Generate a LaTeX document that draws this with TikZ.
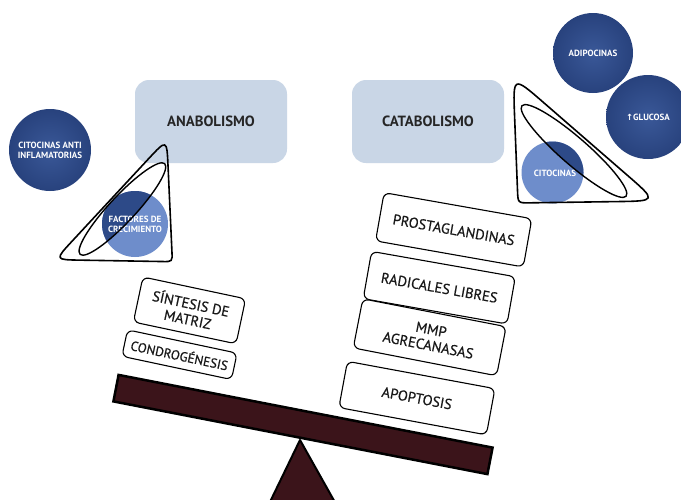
\documentclass[tikz,border=0pt]{standalone}
\usepackage{fontspec}
\usetikzlibrary{calc}
\setmainfont{PT Sans}
\newfontfamily\symf{DejaVu Sans}
\newfontfamily\boxfont[FakeBold=0.5]{PT Sans}
\definecolor{boxblue}{HTML}{C9D6E6}
\definecolor{darkblue}{HTML}{2D4A88}
\definecolor{darkin}{HTML}{3A5898}
\definecolor{darkout}{HTML}{28427D}
\definecolor{lightblue}{HTML}{6E8DCB}
\definecolor{beamred}{HTML}{3B141A}
\begin{document}
\begin{tikzpicture}[x=1pt,y=-1pt,
  stagebox/.style={fill=boxblue, rounded corners=14pt, minimum width=152pt, minimum height=83pt, inner sep=0pt, text=black!85, font=\bfseries\fontsize{14.8}{16}\selectfont},
  factorbox/.style={draw=black, line width=1.1pt, fill=white, rounded corners=6pt, align=center, inner sep=0pt, text=black!90, font=\boxfont\fontsize{14.5}{16}\selectfont},
  darkcirc/.style={circle, inner sep=0pt, text=white, align=center, font=\bfseries\fontsize{9}{10}\selectfont},
  darkball/.style={darkcirc, shading=radial, inner color=darkin, outer color=darkout},
  conelinestyle/.style={draw=black, line width=1.6pt, line join=round},
  rimstyle/.style={draw=black, line width=1.4pt},
  beamstyle/.style={draw=black, line width=2.5pt, fill=beamred, inner sep=0pt},
]
\clip (0,0) rectangle (681,499);
\fill[white] (0,0) rectangle (681,499);

% stages
\node[stagebox] (ana) at (211,121.5) {ANABOLISMO};
\node[stagebox] (cata) at (428,121.5) {CATABOLISMO};

% left circles and cone
\node[darkball, minimum size=82pt] (antiinf) at (50,150) {CITOCINAS ANTI\\INFLAMATORIAS};
\fill[lightblue] (135,224) circle[radius=33];
\begin{scope}
  \clip[rotate around={47:(122.4,209)}] (122.4,209) ellipse [x radius=62, y radius=13];
  \fill[darkblue] (135,224) circle[radius=33];
\end{scope}
\node[darkcirc, minimum size=66pt] (factores) at (135,224) {FACTORES DE\\CRECIMIENTO};
\draw[rimstyle, rotate around={47:(122.4,209)}] (122.4,209) ellipse [x radius=62, y radius=13];
\coordinate (lT) at (166.8,139.1);
\coordinate (lR) at (172.4,261.7);
\coordinate (lL) at (54.9,259.7);
\draw[conelinestyle]
  ($(lT)!27pt!(lL)$) .. controls (lT) .. ($(lT)!27pt!(lR)$)
  -- ($(lR)!10pt!(lT)$) .. controls (lR) .. ($(lR)!10pt!(lL)$)
  -- ($(lL)!25pt!(lR)$) .. controls (lL) .. ($(lL)!25pt!(lT)$) -- cycle;

% right circles and cone
\node[darkball, minimum size=80pt] (adipo) at (593,53) {ADIPOCINAS};
\node[darkball, minimum size=84pt] (gluc) at (648,117) {{\symf\fontsize{8.5}{9}\selectfont↑}GLUCOSA};
\fill[lightblue] (552.5,172.5) circle[radius=31];
\begin{scope}
  \clip[rotate around={-41:(574,151)}] (574,151) ellipse [x radius=69, y radius=13.5];
  \fill[darkblue] (552.5,172.5) circle[radius=31];
\end{scope}
\node[darkcirc, minimum size=62pt] (cito) at (555,173) {CITOCINAS};
\draw[rimstyle, rotate around={-41:(574,151)}] (574,151) ellipse [x radius=69, y radius=13.5];
\coordinate (rT) at (513,76);
\coordinate (rL) at (518,203);
\coordinate (rR) at (657,201);
\draw[conelinestyle]
  ($(rT)!40pt!(rL)$) .. controls (rT) .. ($(rT)!40pt!(rR)$)
  -- ($(rR)!40pt!(rT)$) .. controls (rR) .. ($(rR)!40pt!(rL)$)
  -- ($(rL)!12pt!(rR)$) .. controls (rL) .. ($(rL)!12pt!(rT)$) -- cycle;

% balance
\draw[draw=black, line width=2pt, fill=beamred, line join=round] (300,440) -- (336.5,505) -- (268.5,505) -- cycle;
\node[beamstyle, minimum width=381pt, minimum height=27pt, rotate=-11] (beam) at (303,424.5) {};

% factor boxes
\node[factorbox, minimum width=105pt, minimum height=46pt, rotate=-12] (sintesis) at (189.5,310.4) {SÍNTESIS DE\\MATRIZ};
\node[factorbox, minimum width=112pt, minimum height=27pt, rotate=-12, font=\boxfont\fontsize{13.2}{15}\selectfont] (condro) at (179.5,354.7) {CONDROGÉNESIS};
\node[factorbox, minimum width=150pt, minimum height=49pt, rotate=-10] (prosta) at (453.7,229.8) {PROSTAGLANDINAS};
\node[factorbox, minimum width=146pt, minimum height=48pt, rotate=-10] (radicales) at (439.3,287.7) {RADICALES LIBRES};
\node[factorbox, minimum width=146pt, minimum height=50pt, rotate=-11] (mmp) at (429.7,337.3) {MMP\\AGRECANASAS};
\node[factorbox, minimum width=150pt, minimum height=47pt, rotate=-10.5] (apop) at (416.9,398.1) {APOPTOSIS};
\end{tikzpicture}
\end{document}
